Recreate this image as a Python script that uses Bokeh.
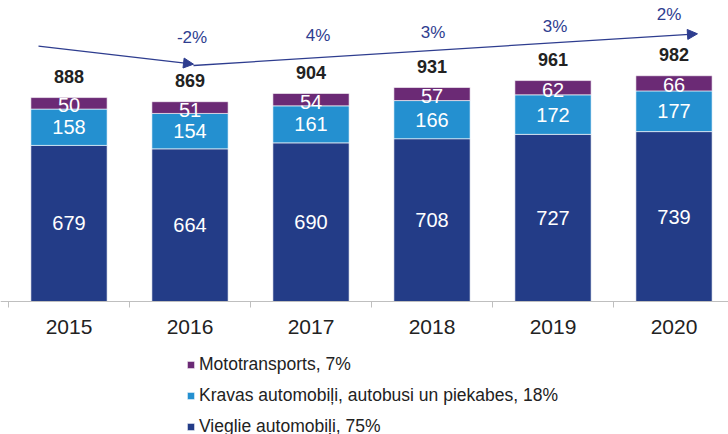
from bokeh.plotting import figure
from bokeh.models import ColumnDataSource, Range1d, FixedTicker, Legend, LegendItem, Arrow, NormalHead
from bokeh.core.properties import value
from bokeh.embed import file_html
from bokeh.resources import INLINE
import numpy as np

# ---------------- data ----------------
years = ["2015", "2016", "2017", "2018", "2019", "2020"]
cars = [679, 664, 690, 708, 727, 739]
trucks = [158, 154, 161, 166, 172, 177]
moto = [50, 51, 54, 57, 62, 66]
totals = [888, 869, 904, 931, 961, 982]
growth = ["-2%", "4%", "3%", "3%", "2%"]          # change vs previous year, 2016..2020
legend_labels = ["Mototransports, 7%",
                 "Kravas automobiļi, autobusi un piekabes, 18%",
                 "Vieglie automobiļi, 75%"]

# ---------------- styles / layout ----------------
CAR = "#233C87"
TRUCK = "#2490D0"
MOTO = "#6B2A75"
TREND = "#2E3D8F"
DARK = "#222222"
FONT = value("Liberation Sans")

W, H = 728, 434
PX_PER_CAT = 121.0
LEFT_PX = 8               # left edge of first category, in pixels
UNITS_PER_PX = 4.3497
AXIS_FROM_TOP = 301

x_start = -0.5 - LEFT_PX / PX_PER_CAT
x_end = x_start + W / PX_PER_CAT
y_end = AXIS_FROM_TOP * UNITS_PER_PX
y_start = -(H - AXIS_FROM_TOP) * UNITS_PER_PX

xi = list(range(len(years)))
cars_a = np.array(cars)
trucks_a = np.array(trucks)
moto_a = np.array(moto)

src = ColumnDataSource(dict(
    x=xi, cars=cars, trucks=trucks, moto=moto, totals=totals,
    car_mid=list(cars_a / 2), truck_mid=list(cars_a + trucks_a / 2),
    moto_mid=list(cars_a + trucks_a + moto_a / 2),
    car_txt=[str(v) for v in cars], truck_txt=[str(v) for v in trucks],
    moto_txt=[str(v) for v in moto], tot_txt=[str(v) for v in totals],
))

p = figure(width=W, height=H, x_range=Range1d(x_start, x_end),
           y_range=Range1d(y_start, y_end), output_backend="svg",
           toolbar_location=None, min_border=0, y_axis_location=None)
p.outline_line_color = None
p.grid.visible = False

rs = p.vbar_stack(["cars", "trucks", "moto"], x="x", width=0.63,
                  color=[CAR, TRUCK, MOTO], source=src,
                  line_color="white", line_width=0.6)

common = dict(source=src, text_font=FONT, text_align="center", text_baseline="middle")
p.text(x="x", y="car_mid", text="car_txt", text_color="white", text_font_size="20px", **common)
p.text(x="x", y="truck_mid", text="truck_txt", text_color="white", text_font_size="20px", **common)
p.text(x="x", y="moto_mid", text="moto_txt", text_color="white", text_font_size="20px",
       y_offset=2, **common)
p.text(x="x", y="totals", text="tot_txt", text_color=DARK, text_font_size="18px",
       text_font_style="bold", y_offset=-21, **common)

# trend arrows (annotation)
ax = [-0.252, 1.029, 5.194]
ay1 = [1110.5, 1032.2]
ay2 = [1026.5, 1164.4]
p.add_layout(Arrow(x_start=ax[0], y_start=ay1[0], x_end=ax[1], y_end=ay1[1],
                   line_color=TREND, line_width=1.3,
                   end=NormalHead(size=10, fill_color=TREND, line_color=TREND)))
p.add_layout(Arrow(x_start=ax[1], y_start=ay2[0], x_end=ax[2], y_end=ay2[1],
                   line_color=TREND, line_width=1.3,
                   end=NormalHead(size=10, fill_color=TREND, line_color=TREND)))

# growth label placement (annotation layout, data units)
growth_y = [1148, 1159, 1170, 1194, 1250]
growth_dx = [2, 7, 1, 2, -5]
gsrc = ColumnDataSource(dict(x=xi[1:], y=growth_y, t=growth, dx=growth_dx))
p.text(x="x", y="y", text="t", source=gsrc, text_color=TREND, text_font=FONT,
       text_font_size="17px", text_align="center", text_baseline="middle", x_offset="dx")

# x axis at y = 0
xa = p.xaxis[0]
xa.fixed_location = 0
xa.ticker = FixedTicker(ticks=xi, minor_ticks=[i - 0.5 for i in range(len(years) + 1)])
xa.major_label_overrides = {i: y for i, y in zip(xi, years)}
xa.major_tick_line_color = None
xa.major_tick_out = 0
xa.major_tick_in = 0
xa.minor_tick_out = 6
xa.minor_tick_in = 0
xa.minor_tick_line_color = "#BFBFBF"
xa.axis_line_color = "#BFBFBF"
xa.axis_line_width = 1
xa.major_label_text_font = "Liberation Sans"
xa.major_label_text_font_size = "21px"
xa.major_label_text_color = DARK
xa.major_label_standoff = 12

legend = Legend(items=[LegendItem(label=legend_labels[0], renderers=[rs[2]]),
                       LegendItem(label=legend_labels[1], renderers=[rs[1]]),
                       LegendItem(label=legend_labels[2], renderers=[rs[0]])],
                location=(186, -3), orientation="vertical", padding=0, margin=0,
                spacing=10, glyph_width=9, glyph_height=9, label_height=20,
                label_standoff=4, label_text_font="Liberation Sans",
                label_text_font_size="17.5px", label_text_color=DARK,
                border_line_color=None, background_fill_alpha=0)
p.add_layout(legend)

open("out.html", "w").write(file_html(p, INLINE))
